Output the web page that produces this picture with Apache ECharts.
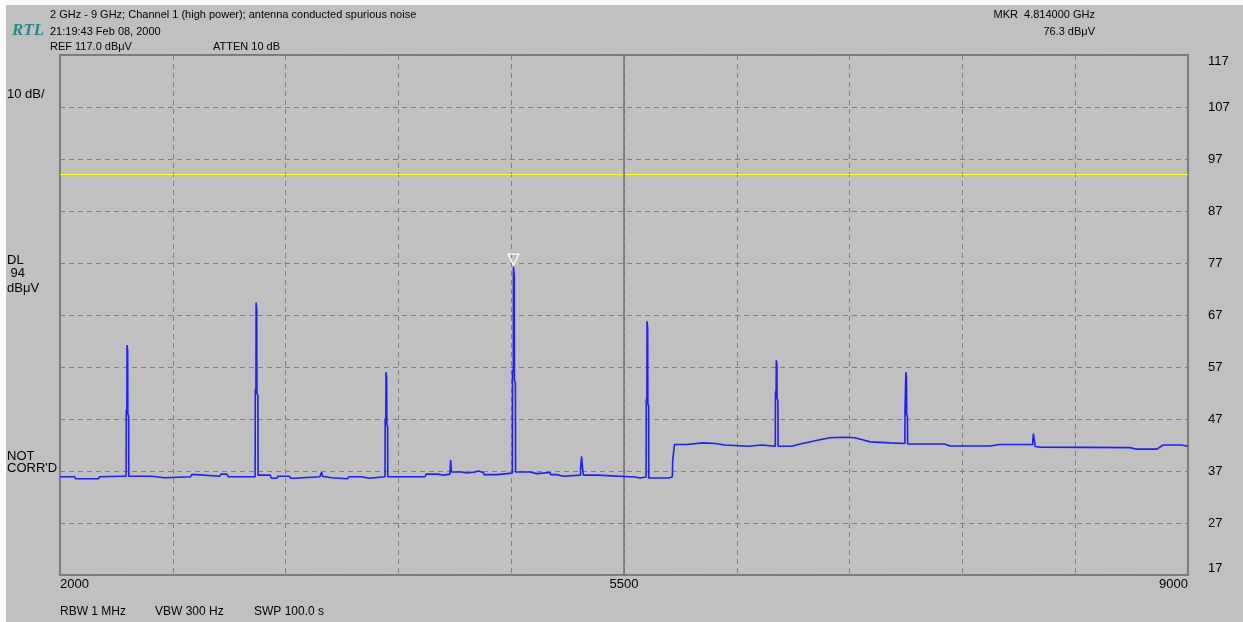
<!DOCTYPE html>
<html>
<head>
<meta charset="utf-8">
<script src="https://cdn.jsdelivr.net/npm/echarts@6/dist/echarts.min.js"></script>
<style>
  html, body { margin: 0; padding: 0; background: #ffffff; width: 1243px; height: 622px; overflow: hidden; }
  #chart { position: absolute; left: 6px; top: 5px; width: 1237px; height: 617px; }
</style>
</head>
<body>
<div id="chart"></div>
<script>
// ---------- axis settings ----------
const startFreqMHz = 2000;
const stopFreqMHz = 9000;
const freqPerDivMHz = 700;
const freqTickLabels = [2000, 5500, 9000];
const refLevel = 117;
const bottomLevel = 17;
const dbPerDiv = 10;
const displayLine = 94;
const centerFreqMHz = 5500;
const markerFreqMHz = 4814;
const markerLevel = 76.3;

// ---------- header / annotation texts ----------
const titleLine = '2 GHz - 9 GHz; Channel 1 (high power); antenna conducted spurious noise';
const dateLine = '21:19:43 Feb 08, 2000';
const refText = 'REF 117.0 dBμV';
const attenText = 'ATTEN 10 dB';
const markerFreqText = 'MKR  4.814000 GHz';
const markerLevelText = '76.3 dBμV';
const scaleText = '10 dB/';
const dlTexts = ['DL', ' 94', 'dBμV'];
const corrTexts = ['NOT', "CORR'D"];
const bottomTexts = ['RBW 1 MHz', 'VBW 300 Hz', 'SWP 100.0 s'];

// ---------- trace: [frequency MHz, level dBμV] ----------
const traceSeg1 = [
  [2000, 35.9], [2090, 35.9], [2097, 35.5], [2200, 35.5], [2238, 35.5], [2246, 35.9],
  [2370, 36.0], [2410, 36.0], [2411, 48.5], [2415, 49.0], [2416, 61.2], [2420, 60.0],
  [2421, 48.0], [2426, 47.5], [2427, 36.0],
  [2440, 36.0], [2570, 36.0], [2577, 35.7], [2650, 35.7], [2660, 35.9], [2810, 35.9],
  [2818, 36.3], [2848, 36.3], [2856, 36.0], [2990, 36.0], [3000, 36.4], [3035, 36.4],
  [3045, 35.9], [3211, 35.9], [3212, 52.5], [3216, 53.0], [3217, 69.4], [3221, 68.0],
  [3222, 52.0], [3228, 51.5], [3229, 36.2]
];
const traceSeg2 = [
  [3305, 36.2], [3312, 35.6], [3345, 35.6], [3352, 36.0], [3425, 36.0], [3430, 35.6],
  [3455, 35.6], [3462, 35.9], [3612, 35.9], [3619, 36.1], [3624, 36.8], [3628, 36.0],
  [3640, 35.7], [3685, 35.7], [3690, 35.5], [3785, 35.5], [3792, 35.9], [3870, 35.9],
  [3876, 35.6], [3920, 35.6], [3927, 35.9], [4017, 35.9], [4018, 46.8], [4022, 47.2],
  [4023, 56.0], [4027, 55.0], [4028, 46.0], [4033, 45.5], [4034, 35.9],
  [4265, 35.9], [4272, 36.4], [4348, 36.4],
  [4352, 36.2], [4379, 36.2], [4383, 36.4], [4420, 36.4], [4421, 37.2], [4423, 37.2],
  [4424, 39.1], [4426, 38.5], [4427, 37.4], [4431, 36.8], [4493, 36.8], [4497, 36.6],
  [4524, 36.6], [4528, 36.8], [4575, 36.8], [4579, 37.0], [4596, 37.0], [4600, 36.7],
  [4627, 36.7], [4632, 36.3], [4710, 36.3], [4715, 36.6], [4807, 36.6], [4808, 56.0],
  [4813, 56.5], [4814, 76.3], [4819, 74.5], [4820, 54.4], [4826, 54.0], [4827, 36.8]
];
const traceSeg3 = [
  [4917, 36.8], [4921, 36.5], [4958, 36.5], [4962, 36.7], [5041, 36.7], [5045, 36.3],
  [5082, 36.3], [5086, 36.0], [5124, 36.0], [5128, 36.2], [5230, 36.2], [5231, 37.8],
  [5236, 37.8], [5237, 39.8], [5241, 39.5], [5242, 37.8], [5247, 37.8], [5248, 36.2],
  [5334, 36.2], [5338, 35.85], [5568, 35.85],
  [5572, 35.65], [5599, 35.65], [5603, 35.85], [5637, 35.85], [5638, 50.6], [5642, 51.0],
  [5643, 65.8], [5647, 64.5], [5648, 50.0], [5653, 49.5], [5654, 35.65],
  [5775, 35.65], [5779, 35.85], [5800, 35.85],
  [5802, 38.9], [5810, 39.2], [5813, 42.1], [5889, 42.1], [5893, 42.4], [5992, 42.4],
  [5996, 42.3], [6065, 42.3], [6069, 42.0], [6127, 42.0], [6131, 41.75], [6271, 41.75],
  [6275, 42.0], [6354, 42.0], [6358, 41.75], [6439, 41.75], [6440, 52.0], [6444, 52.5],
  [6445, 58.3], [6449, 57.5], [6450, 51.0], [6455, 50.5], [6456, 41.75]
];
const traceSeg4 = [
  [6541, 41.75], [6580, 42.1], [6623, 42.4], [6700, 42.9], [6778, 43.4], [6860, 43.5],
  [6933, 43.4], [6980, 43.0], [7027, 42.6], [7150, 42.4], [7243, 42.3], [7244, 48.7],
  [7248, 49.0], [7249, 56.0], [7253, 55.0], [7254, 48.0], [7259, 47.5], [7260, 42.2],
  [7490, 42.2], [7523, 41.8], [7771, 41.8], [7833, 42.1], [8036, 42.1], [8037, 43.0],
  [8040, 43.0], [8041, 44.2], [8044, 44.0], [8045, 43.0], [8049, 42.5], [8050, 41.7],
  [8082, 41.6], [8640, 41.5], [8683, 41.2], [8807, 41.2], [8845, 42.0],
  [8960, 42.0], [9000, 41.75]
];
const trace = traceSeg1.concat(traceSeg2, traceSeg3, traceSeg4);

const chart = echarts.init(document.getElementById('chart'), null, { renderer: 'canvas' });

const gridColor = '#808080';
const txt = (x, y, text, extra) => ({
  type: 'text', x: x, y: y,
  style: Object.assign({ text: text, fill: '#000000', font: '11px "Liberation Sans", Arial, sans-serif',
    textAlign: 'left', textVerticalAlign: 'middle' }, extra || {})
});
const f13 = { font: '13px "Liberation Sans", Arial, sans-serif' };
const f12 = { font: '12px "Liberation Sans", Arial, sans-serif' };

const graphics = [
  txt(44, 10, titleLine),
  txt(44, 27, dateLine),
  txt(44, 42, refText),
  txt(207, 42, attenText),
  txt(6, 26, 'RTL', { fill: '#1f8a8c', font: 'italic bold 17px "Liberation Serif", "Times New Roman", serif' }),
  txt(1089, 10, markerFreqText, { textAlign: 'right' }),
  txt(1089, 27, markerLevelText, { textAlign: 'right' }),
  txt(1, 89, scaleText, f13),
  txt(1, 255, dlTexts[0], f13),
  txt(1, 268, dlTexts[1], f13),
  txt(1, 283, dlTexts[2], f13),
  txt(1, 451, corrTexts[0], f13),
  txt(1, 463, corrTexts[1], f13),
  txt(54, 607, bottomTexts[0], f12),
  txt(149, 607, bottomTexts[1], f12),
  txt(248, 607, bottomTexts[2], f12)
];

const option = {
  animation: false,
  backgroundColor: '#c0c0c0',
  grid: { left: 54, top: 50, right: 55, bottom: 47, show: true, borderColor: '#7a7a7a', borderWidth: 2, backgroundColor: 'transparent' },
  xAxis: [
    { type: 'value', min: startFreqMHz, max: stopFreqMHz, show: false },
    {
      type: 'value', min: 0, max: stopFreqMHz - startFreqMHz, interval: freqPerDivMHz, position: 'bottom',
      axisLine: { show: false }, axisTick: { show: false },
      splitLine: { show: true, lineStyle: { color: gridColor, type: [5, 4], width: 1 } },
      axisLabel: {
        show: true, margin: 3, color: '#000', fontSize: 13, fontFamily: '"Liberation Sans", Arial, sans-serif',
        showMinLabel: true, showMaxLabel: true, alignMinLabel: 'left', alignMaxLabel: 'right',
        formatter: function (v) { const f = v + startFreqMHz; return freqTickLabels.indexOf(f) >= 0 ? String(f) : ''; }
      }
    }
  ],
  yAxis: [
    { type: 'value', min: bottomLevel, max: refLevel, show: false },
    {
      type: 'value', min: 0, max: refLevel - bottomLevel, interval: dbPerDiv, position: 'right',
      axisLine: { show: false }, axisTick: { show: false },
      splitLine: { show: true, lineStyle: { color: gridColor, type: [5, 4], width: 1 } },
      axisLabel: {
        show: true, margin: 20, color: '#000', fontSize: 13, fontFamily: '"Liberation Sans", Arial, sans-serif',
        showMinLabel: true, showMaxLabel: true, verticalAlignMaxLabel: 'top', verticalAlignMinLabel: 'bottom',
        formatter: function (v) { return String(v + bottomLevel); }
      }
    }
  ],
  graphic: graphics,
  series: [
    {
      type: 'line', xAxisIndex: 0, yAxisIndex: 0, data: trace, symbol: 'none', showSymbol: false,
      lineStyle: { color: '#1e1eff', width: 1.6 }, z: 5,
      markLine: {
        silent: true, symbol: ['none', 'none'], label: { show: false }, animation: false,
        data: [
          { yAxis: displayLine, lineStyle: { color: '#ffff00', width: 1, type: 'solid' } },
          { xAxis: centerFreqMHz, lineStyle: { color: '#707070', width: 1.5, type: 'solid' } }
        ]
      },
      markPoint: {
        silent: true, animation: false, label: { show: false },
        data: [{
          coord: [markerFreqMHz, markerLevel], symbol: 'triangle', symbolRotate: 180,
          symbolSize: [11, 11], symbolOffset: [0, -7],
          itemStyle: { color: 'rgba(0,0,0,0)', borderColor: '#ffffff', borderWidth: 1.2 }
        }]
      }
    }
  ]
};
chart.setOption(option);
</script>
</body>
</html>
